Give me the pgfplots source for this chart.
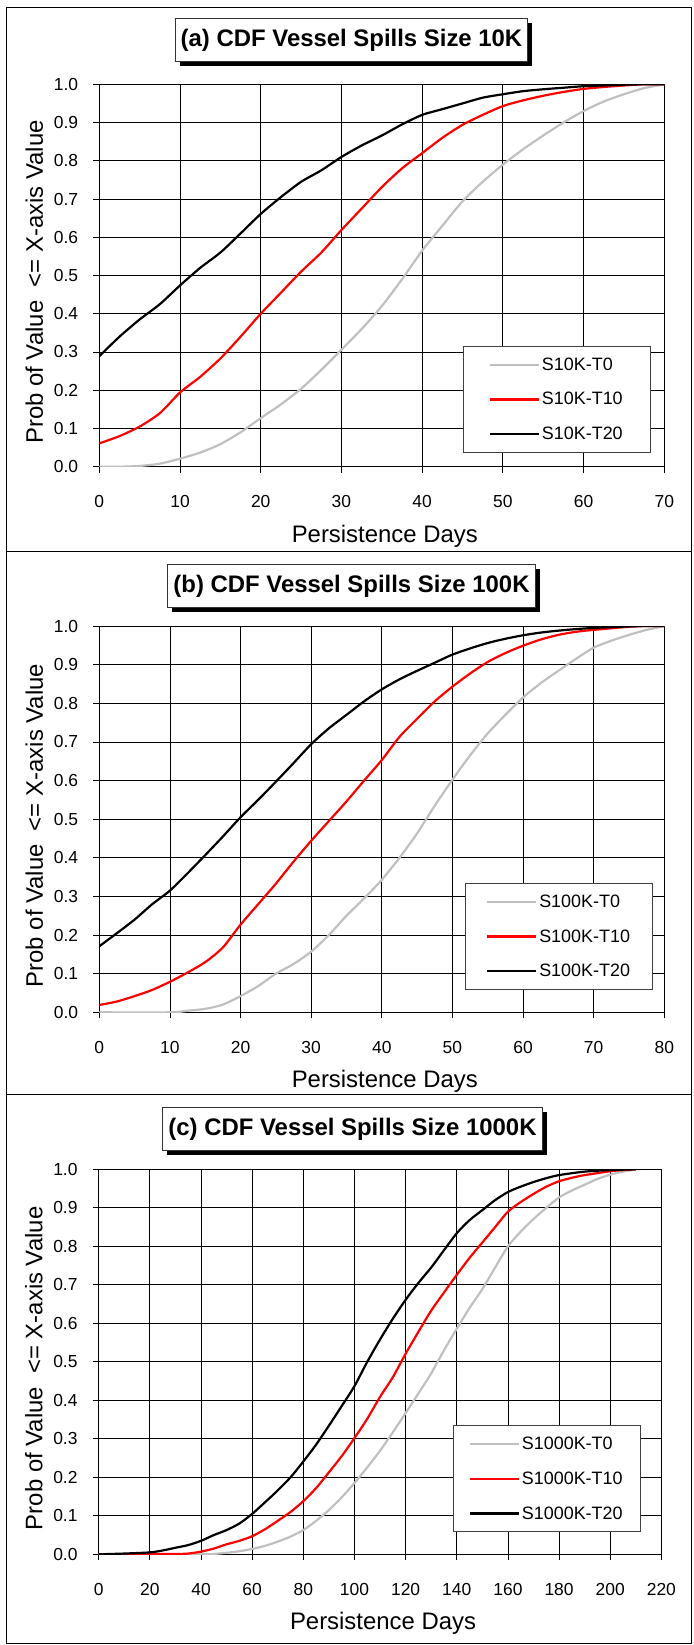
\documentclass[border=0pt]{standalone}
\usepackage{fontspec}
\setmainfont{Liberation Sans}
\usepackage{pgfplots}
\pgfplotsset{compat=1.18}
\usetikzlibrary{shadows}
\definecolor{cgray}{RGB}{192,192,192}
\definecolor{cred}{RGB}{255,0,0}

\pgfplotsset{
  cdf/.style={
    scale only axis,
    anchor=south west,
    ymin=0, ymax=1,
    ytick={0,0.1,0.2,0.3,0.4,0.5,0.6,0.7,0.8,0.9,1},
    grid=major,
    major grid style={black, line width=0.8bp},
    axis line style={black, line width=1bp},
    tick style={black, line width=0.8bp},
    tick align=outside,
    major tick length=6bp,
    xtick pos=left, ytick pos=left,
    /pgf/number format/assume math mode=true,
    tick label style={font=\fontsize{17.5}{18}\selectfont},
    xticklabel style={anchor=north, inner sep=0pt, yshift=-22.4bp},
    yticklabel style={anchor=east, inner sep=0pt, xshift=-15bp,
      /pgf/number format/fixed, /pgf/number format/fixed zerofill, /pgf/number format/precision=1},
    every axis x label/.style={at={(axis description cs:0.5,0)}, anchor=base, yshift=-75.5bp, xshift=3bp,
      font=\fontsize{24}{24}\selectfont},
    every axis y label/.style={at={(axis description cs:0,0.5)}, xshift=-56.3bp, yshift=-6.5bp, rotate=90, anchor=base,
      font=\fontsize{24}{24}\selectfont},
    xlabel={Persistence Days},
    ylabel={Prob of Value\ \ <= X-axis Value},
    legend cell align=left,
    legend image code/.code={\draw[##1, line width=2.4bp] (0bp,0bp) -- (49bp,0bp);},
    legend style={at={(axis description cs:1,0)}, anchor=south east,
      draw=black!75, line width=1bp, fill=white,
      font=\fontsize{18}{18}\selectfont,
      inner ysep=9.3bp, row sep=16.7bp, column sep=0bp,
      nodes={inner sep=2bp}},
  },
  sg/.style={cgray, line width=2.2bp, line join=round, smooth, tension=0.45},
  sr/.style={cred, line width=2.2bp, line join=round, smooth, tension=0.45},
  sb/.style={black, line width=2.2bp, line join=round, smooth, tension=0.45},
}

\tikzset{ttl/.style={draw=black!80, line width=1bp, fill=white,
  drop shadow={shadow xshift=4.5bp, shadow yshift=-4.5bp, opacity=1, fill=black},
  font=\fontsize{24}{24}\selectfont\bfseries, inner xsep=5.5bp, minimum height=43bp}}

\begin{document}
\begin{tikzpicture}
\path[use as bounding box] (0bp,0bp) rectangle (694bp,-1645bp);
\draw[line width=1.5bp] (6.7bp,-7.3bp) rectangle (691.5bp,-1643.5bp);
\draw[line width=1.5bp] (6.7bp,-551.5bp) -- (691.5bp,-551.5bp);
\draw[line width=1.5bp] (6.7bp,-1094.5bp) -- (691.5bp,-1094.5bp);

% ---------------- (a)
\begin{axis}[cdf, at={(99.3bp,-466.7bp)}, width=565bp, height=382.4bp,
  xmin=0, xmax=70, xtick={0,10,20,30,40,50,60,70},
  legend style={xshift=-13.6bp, yshift=13.7bp, inner xsep=25.5bp}]
\addplot[sg] coordinates {(0,0) (2.5,0) (5,0.002) (7.5,0.008) (10,0.021) (12.5,0.037) (15,0.059) (17.5,0.09) (20,0.127) (22.5,0.163) (25,0.204) (27.5,0.253) (30,0.306) (32.5,0.36) (35,0.42) (37.5,0.49) (40,0.565) (42.5,0.63) (45,0.694) (47.5,0.745) (50,0.79) (52.5,0.83) (55,0.866) (57.5,0.9) (60,0.93) (62.5,0.955) (65,0.974) (67.5,0.99) (70,1.0)};
\addlegendentry{S10K-T0}
\addplot[sr] coordinates {(0,0.061) (2.5,0.08) (5,0.105) (7.5,0.14) (10,0.194) (12.5,0.235) (15,0.283) (17.5,0.34) (20,0.40) (22.5,0.455) (25,0.51) (27.5,0.56) (30,0.619) (32.5,0.675) (35,0.731) (37.5,0.78) (40,0.82) (42.5,0.86) (45,0.894) (47.5,0.92) (50,0.943) (52.5,0.958) (55,0.97) (57.5,0.98) (60,0.988) (62.5,0.993) (65,0.997) (67.5,1.0) (70,1.0)};
\addlegendentry{S10K-T10}
\addplot[sb] coordinates {(0,0.289) (2.5,0.34) (5,0.385) (7.5,0.425) (10,0.474) (12.5,0.52) (15,0.56) (17.5,0.61) (20,0.661) (22.5,0.705) (25,0.745) (27.5,0.775) (30,0.81) (32.5,0.84) (35,0.866) (37.5,0.895) (40,0.92) (42.5,0.935) (45,0.95) (47.5,0.965) (50,0.974) (52.5,0.982) (55,0.987) (57.5,0.991) (60,0.995) (62.5,0.997) (65,0.999) (67.5,1.0) (70,1.0)};
\addlegendentry{S10K-T20}
\end{axis}

% ---------------- (b)
\begin{axis}[cdf, at={(99.3bp,-1012.3bp)}, width=565bp, height=386.3bp,
  xmin=0, xmax=80, xtick={0,10,20,30,40,50,60,70,80},
  legend style={xshift=-11.3bp, yshift=22.3bp, inner xsep=20.5bp}]
\addplot[sg] coordinates {(0,0) (10,0) (12.5,0.004) (15,0.009) (17.5,0.02) (20,0.042) (22.5,0.068) (25,0.10) (27.5,0.125) (30,0.157) (32.5,0.2) (35,0.25) (37.5,0.295) (40,0.343) (42.5,0.4) (45,0.463) (47.5,0.535) (50,0.602) (52.5,0.665) (55,0.722) (57.5,0.77) (60,0.815) (62.5,0.852) (65,0.884) (67.5,0.915) (70,0.944) (72.5,0.962) (75,0.977) (77.5,0.99) (80,1.0)};
\addlegendentry{S100K-T0}
\addplot[sr] coordinates {(0,0.019) (2.5,0.028) (5,0.042) (7.5,0.058) (10,0.079) (12.5,0.103) (15,0.13) (17.5,0.168) (20,0.227) (22.5,0.28) (25,0.333) (27.5,0.39) (30,0.444) (32.5,0.495) (35,0.546) (37.5,0.6) (40,0.653) (42.5,0.713) (45,0.76) (47.5,0.805) (50,0.843) (52.5,0.877) (55,0.907) (57.5,0.93) (60,0.949) (62.5,0.965) (65,0.977) (67.5,0.985) (70,0.99) (75,0.998) (77.5,1.0) (80,1.0)};
\addlegendentry{S100K-T10}
\addplot[sb] coordinates {(0,0.171) (2.5,0.205) (5,0.24) (7.5,0.28) (10,0.315) (12.5,0.36) (15,0.407) (17.5,0.455) (20,0.505) (22.5,0.55) (25,0.597) (27.5,0.645) (30,0.694) (32.5,0.735) (35,0.77) (37.5,0.805) (40,0.836) (42.5,0.862) (45,0.884) (47.5,0.905) (50,0.926) (52.5,0.942) (55,0.956) (57.5,0.967) (60,0.976) (62.5,0.983) (65,0.988) (67.5,0.992) (70,0.995) (75,0.999) (77.5,1.0) (80,1.0)};
\addlegendentry{S100K-T20}
\end{axis}

% ---------------- (c)
\begin{axis}[cdf, at={(98.7bp,-1554.3bp)}, width=562.7bp, height=385bp,
  xmin=0, xmax=220, xtick={0,20,40,60,80,100,120,140,160,180,200,220},
  legend style={xshift=-20.8bp, yshift=22bp, inner xsep=15.5bp}]
\addplot[sg] coordinates {(0,0) (40,0) (45,0.001) (50,0.004) (55,0.008) (60,0.014) (65,0.022) (70,0.033) (75,0.046) (80,0.063) (85,0.087) (90,0.115) (95,0.148) (100,0.185) (105,0.226) (110,0.269) (115,0.317) (120,0.367) (125,0.418) (130,0.47) (135,0.53) (140,0.586) (145,0.64) (150,0.689) (155,0.745) (160,0.80) (165,0.838) (170,0.871) (175,0.9) (180,0.927) (185,0.945) (190,0.96) (195,0.975) (200,0.986) (205,0.994) (210,1.0)};
\addlegendentry{S1000K-T0}
\addplot[sr] coordinates {(0,0) (30,0.001) (35,0.002) (40,0.007) (45,0.015) (50,0.026) (55,0.035) (60,0.047) (65,0.065) (70,0.087) (75,0.11) (80,0.138) (85,0.172) (90,0.213) (95,0.255) (100,0.302) (105,0.352) (110,0.409) (115,0.46) (120,0.521) (125,0.578) (130,0.633) (135,0.68) (140,0.726) (145,0.77) (150,0.81) (155,0.85) (160,0.89) (165,0.915) (170,0.936) (175,0.955) (180,0.969) (185,0.978) (190,0.985) (200,0.995) (205,0.998) (210,1.0)};
\addlegendentry{S1000K-T10}
\addplot[sb] coordinates {(0,0) (10,0.002) (20,0.005) (25,0.01) (30,0.017) (35,0.024) (40,0.035) (45,0.05) (50,0.063) (55,0.08) (60,0.105) (65,0.135) (70,0.166) (75,0.2) (80,0.241) (85,0.285) (90,0.334) (95,0.385) (100,0.437) (105,0.5) (110,0.558) (115,0.612) (120,0.661) (125,0.705) (130,0.745) (135,0.79) (140,0.834) (145,0.868) (150,0.894) (155,0.92) (160,0.941) (165,0.955) (170,0.967) (175,0.977) (180,0.985) (190,0.994) (200,0.998) (210,1.0)};
\addlegendentry{S1000K-T20}
\end{axis}

\node[ttl] at (351.5bp,-40bp) {(a) CDF Vessel Spills Size 10K};
\node[ttl] at (351.5bp,-586bp) {(b) CDF Vessel Spills Size 100K};
\node[ttl] at (352.5bp,-1129bp) {(c) CDF Vessel Spills Size 1000K};
\end{tikzpicture}
\end{document}
